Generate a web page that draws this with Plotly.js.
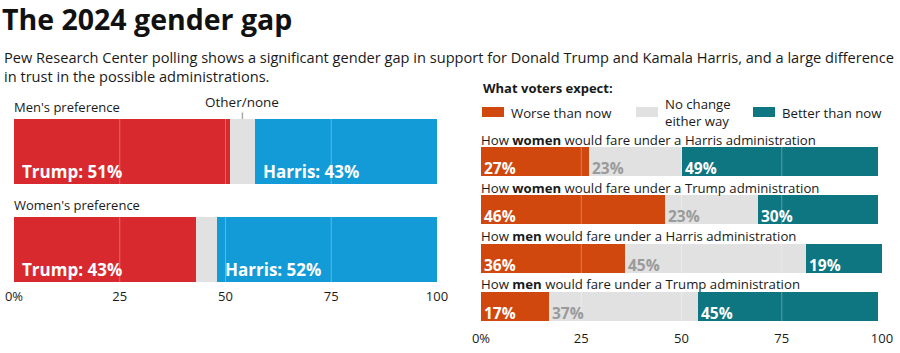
<!DOCTYPE html>
<html>
<head>
<meta charset="utf-8">
<script src="https://cdn.plot.ly/plotly-3.0.1.min.js"></script>
<style>html,body{margin:0;padding:0;background:#fff;}#chart{width:900px;height:353px;}</style>
</head>
<body>
<div id="chart"></div>
<script>
// ---- data ----
var prefCats = ["Men's preference", "Women's preference"];
var trumpPct = [51, 43];
var otherPct = [6, 5];
var harrisPct = [43, 52];

var expectCats = [
  "How <b>women</b> would fare under a Harris administration",
  "How <b>women</b> would fare under a Trump administration",
  "How <b>men</b> would fare under a Harris administration",
  "How <b>men</b> would fare under a Trump administration"
];
var worsePct = [27, 46, 36, 17];
var noChangePct = [23, 23, 45, 37];
var betterPct = [49, 30, 19, 45];
var expectNames = ["Worse than now", "No change<br>either way", "Better than now"];

var tickVals = [0, 25, 50, 75, 100];
var tickText = ["0%", "25", "50", "75", "100"];

// ---- styling ----
var W = 900, H = 353;
var FONT = "Open Sans, sans-serif";
var C = {red: "#d8292f", blue: "#139bd7", gray: "#e1e1e1", orange: "#d1480f", teal: "#0e7680", text: "#1a1a1a", muted: "#9a9a9a"};
function px(x){ return x / W; }
function py(y){ return 1 - y / H; }
var expectColors = [C.orange, C.gray, C.teal];

var traces = [
  {type: "bar", orientation: "h", y: prefCats, x: trumpPct, name: "Trump", marker: {color: C.red}, xaxis: "x", yaxis: "y", width: 0.66},
  {type: "bar", orientation: "h", y: prefCats, x: otherPct, name: "Other/none", marker: {color: C.gray}, xaxis: "x", yaxis: "y", width: 0.66},
  {type: "bar", orientation: "h", y: prefCats, x: harrisPct, name: "Harris", marker: {color: C.blue}, xaxis: "x", yaxis: "y", width: 0.66},
  {type: "bar", orientation: "h", y: expectCats, x: worsePct, name: expectNames[0], marker: {color: expectColors[0]}, xaxis: "x2", yaxis: "y2", width: 0.6},
  {type: "bar", orientation: "h", y: expectCats, x: noChangePct, name: expectNames[1], marker: {color: expectColors[1]}, xaxis: "x2", yaxis: "y2", width: 0.6},
  {type: "bar", orientation: "h", y: expectCats, x: betterPct, name: expectNames[2], marker: {color: expectColors[2]}, xaxis: "x2", yaxis: "y2", width: 0.6}
];

var ann = [];
var shapes = [];
// subtitle
ann.push({xref: "paper", yref: "paper", x: px(2), y: py(45), xanchor: "left", yanchor: "top", align: "left", showarrow: false,
  text: "Pew Research Center polling shows a significant gender gap in support for Donald Trump and Kamala Harris, and a large difference<br>in trust in the possible administrations.",
  font: {family: FONT, size: 14.6, color: C.text}});
ann.push({xref: "paper", yref: "paper", x: px(481), y: py(88), xanchor: "left", yanchor: "middle", showarrow: false,
  text: "<b>What voters expect:</b>", font: {family: FONT, size: 13, color: C.text}});

// legend (swatches + labels)
var legendSwatchX = [482, 636, 753];
expectNames.forEach(function(name, k){
  var x0 = legendSwatchX[k];
  shapes.push({type: "rect", xref: "paper", yref: "paper", x0: px(x0), x1: px(x0 + 22), y0: py(117), y1: py(107), line: {width: 0}, fillcolor: expectColors[k]});
  ann.push({xref: "paper", yref: "paper", x: px(x0 + 27), y: py(112.5), xanchor: "left", yanchor: "middle", align: "left", showarrow: false,
    text: name, font: {family: FONT, size: 13.2, color: C.text}});
});

// left chart labels
prefCats.forEach(function(cat, i){
  ann.push({xref: "x", yref: "y", x: 0, y: cat, xanchor: "left", yanchor: "middle", yshift: 45, xshift: -2, showarrow: false,
    text: cat, font: {family: FONT, size: 13, color: C.text}});
  ann.push({xref: "x", yref: "y", x: 0, y: cat, xanchor: "left", yanchor: "middle", yshift: -20, xshift: 6, showarrow: false,
    text: "<b>Trump: " + trumpPct[i] + "%</b>", font: {family: FONT, size: 17, color: "#fff"}});
  ann.push({xref: "x", yref: "y", x: trumpPct[i] + otherPct[i], y: cat, xanchor: "left", yanchor: "middle", yshift: -20, xshift: 6, showarrow: false,
    text: "<b>Harris: " + harrisPct[i] + "%</b>", font: {family: FONT, size: 17, color: "#fff"}});
});
ann.push({xref: "x", yref: "y", x: trumpPct[0] + otherPct[0] / 2, y: prefCats[0], yshift: 32.5, ax: 0, ay: -17,
  showarrow: true, arrowhead: 0, arrowwidth: 1.5, arrowcolor: "#aaa", standoff: 0,
  text: "Other/none", font: {family: FONT, size: 13.5, color: C.text}});

// right chart labels
expectCats.forEach(function(cat, i){
  ann.push({xref: "x2", yref: "y2", x: 0, y: cat, xanchor: "left", yanchor: "middle", yshift: 22, xshift: -2, showarrow: false,
    text: cat, font: {family: FONT, size: 13.2, color: C.text}});
  var starts = [0, worsePct[i], worsePct[i] + noChangePct[i]];
  var vals = [worsePct[i], noChangePct[i], betterPct[i]];
  var cols = ["#fff", C.muted, "#fff"];
  for (var k = 0; k < 3; k++) {
    ann.push({xref: "x2", yref: "y2", x: starts[k], y: cat, xanchor: "left", yanchor: "middle", yshift: -6.5, xshift: 1, showarrow: false,
      text: "<b>" + vals[k] + "%</b>", font: {family: FONT, size: 15.5, color: cols[k]}});
  }
});

// faint gridlines drawn over the bars
[25, 50, 75].forEach(function(v){
  shapes.push({type: "line", xref: "x", yref: "paper", x0: v, x1: v, y0: py(285), y1: py(118), layer: "above", line: {color: "rgba(255,255,255,0.3)", width: 1}});
  shapes.push({type: "line", xref: "x2", yref: "paper", x0: v, x1: v, y0: py(322), y1: py(146), layer: "above", line: {color: "rgba(255,255,255,0.3)", width: 1}});
});

var axisCommon = {range: [0, 100], tickvals: tickVals, ticktext: tickText, showgrid: false, zeroline: false, showline: false, ticks: "",
  tickfont: {family: FONT, size: 13, color: C.text}, fixedrange: true};

var layout = {
  width: W, height: H,
  margin: {l: 0, r: 0, t: 0, b: 0},
  paper_bgcolor: "#fff", plot_bgcolor: "rgba(0,0,0,0)",
  barmode: "stack",
  showlegend: false,
  font: {family: FONT, color: C.text},
  title: {text: "<b>The 2024 gender gap</b>", x: px(2), xanchor: "left", xref: "paper", y: py(20), yanchor: "middle", yref: "paper",
    font: {family: FONT, size: 28.5, color: "#111"}},
  xaxis: Object.assign({}, axisCommon, {domain: [px(14), px(437)], anchor: "y"}),
  yaxis: {domain: [py(287), py(100)], type: "category", range: [1.376, -0.523], showticklabels: false, showgrid: false, zeroline: false, fixedrange: true},
  xaxis2: Object.assign({}, axisCommon, {domain: [px(481), px(882)], anchor: "y2", ticklabelstandoff: 4}),
  yaxis2: {domain: [py(325), py(130)], type: "category", range: [3.383, -0.652], showticklabels: false, showgrid: false, zeroline: false, fixedrange: true},
  annotations: ann,
  shapes: shapes
};

Plotly.newPlot("chart", traces, layout, {displayModeBar: false, staticPlot: true});
</script>
</body>
</html>
